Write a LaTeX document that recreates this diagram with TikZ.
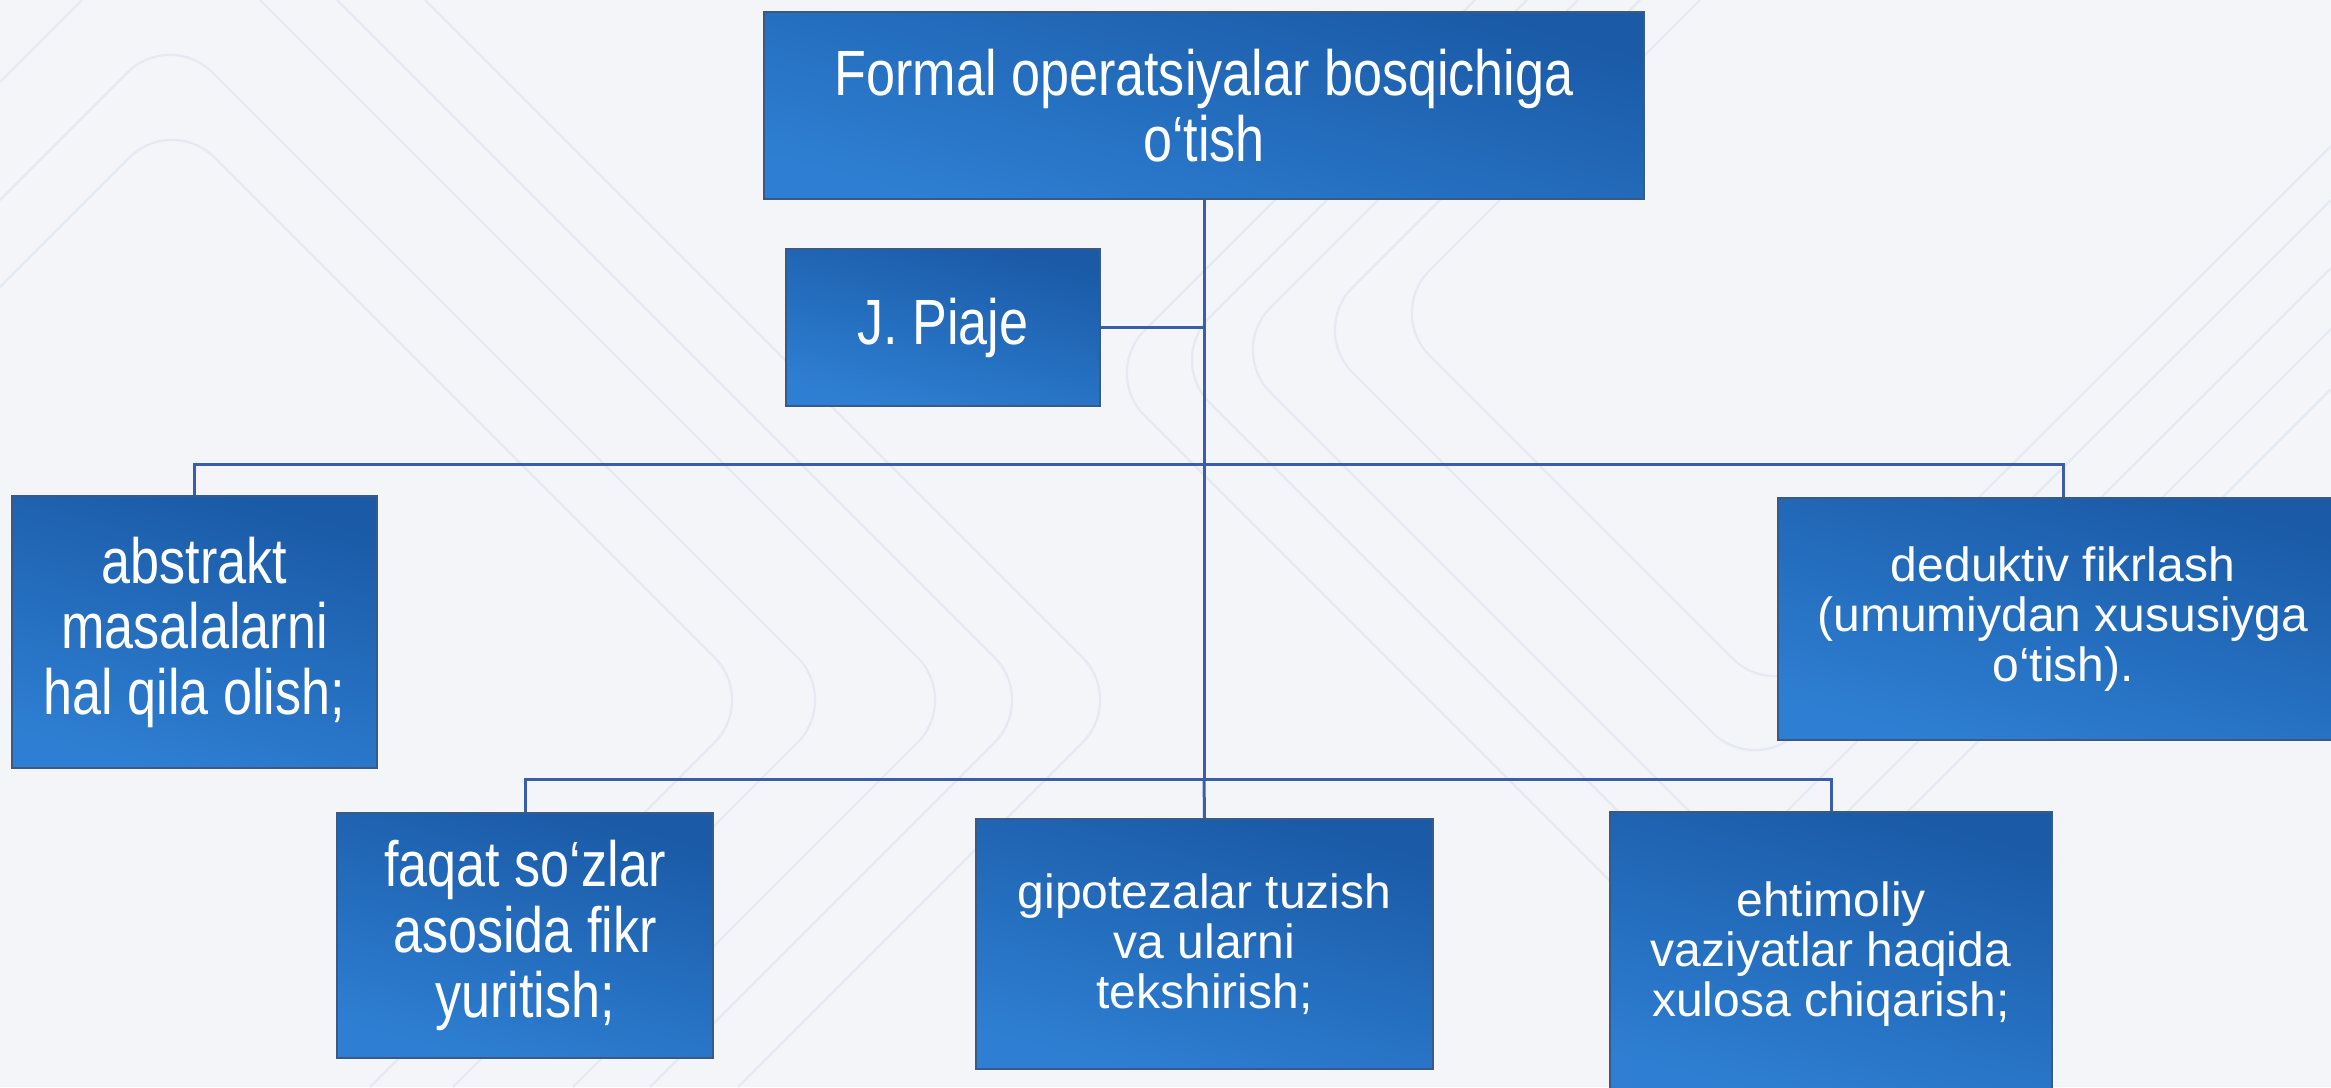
\documentclass[tikz,border=0pt]{standalone}
\usepackage{fontspec}
\setmainfont{Liberation Sans}
\newfontfamily\condfont[FakeStretch=0.815]{Liberation Sans}
\definecolor{bgcol}{HTML}{F3F5F9}
\definecolor{decor}{HTML}{E5E9F1}
\definecolor{boxdark}{HTML}{1A5AA6}
\definecolor{boxlight}{HTML}{2E7FD3}
\definecolor{boxborder}{HTML}{3A5A86}
\definecolor{connblue}{HTML}{3B5EAA}
\begin{document}
\begin{tikzpicture}[x=1pt,y=-1pt,
  boxbase/.style={draw=boxborder, line width=1.5pt, top color=boxdark, bottom color=boxlight, shading angle=-15, text=white, inner sep=0pt, align=center},
  bigbox/.style={boxbase, font=\condfont\fontsize{64}{65.5}\selectfont},
  smallbox/.style={boxbase, font=\fontsize{48}{50}\selectfont},
  conn/.style={draw=connblue, line width=3pt},
  deco/.style={draw=decor, line width=2.2pt, rounded corners=60pt}]
\useasboundingbox (0,0) rectangle (2331,1087);
\clip (0,0) rectangle (2331,1087);
\fill[bgcol] (0,0) rectangle (2331,1087);
% decorative background lines
\draw[deco] (0,200) -- (170,30) -- (840,700) -- (453,1087);
\draw[deco] (0,287) -- (172,115) -- (757,700) -- (370,1087);
\draw[deco] (260,0) -- (960,700) -- (573,1087);
\draw[deco] (337,0) -- (1037,700) -- (650,1087);
\draw[deco] (425,0) -- (1125,700) -- (738,1087);
\draw[deco] (0,82) -- (82,0);
\draw[deco] (1475,0) -- (1102,373) -- (1724,995) -- (2331,389);
\draw[deco] (1527,0) -- (1167,360) -- (1733,926) -- (2331,329);
\draw[deco] (1578,0) -- (1228,350) -- (1738,860) -- (2331,268);
\draw[deco] (1640,0) -- (1310,330) -- (1755,775) -- (2331,200);
\draw[deco] (1700,0) -- (1387,313) -- (1775,701) -- (2331,146);
% boxes
\node[bigbox, minimum width=880pt, minimum height=187pt] (top) at (1204,105.5) {Formal operatsiyalar bosqichiga\\o‘tish};
\node[bigbox, minimum width=314pt, minimum height=157pt] (piaje) at (943,327.5) {J. Piaje};
\node[bigbox, minimum width=365pt, minimum height=272pt] (abs) at (194.5,632) {abstrakt\\masalalarni\\hal qila olish;};
\node[smallbox, minimum width=570pt, minimum height=242pt] (ded) at (2063,619) {deduktiv fikrlash\\(umumiydan xususiyga\\o‘tish).};
\node[bigbox, minimum width=376pt, minimum height=245pt] (faq) at (525,935.5) {faqat so‘zlar\\asosida fikr\\yuritish;};
\node[smallbox, minimum width=457pt, minimum height=250pt] (gip) at (1204.5,944) {gipotezalar tuzish\\va ularni\\tekshirish;};
\node[smallbox, minimum width=442pt, minimum height=284pt] (eht) at (1831,954) {ehtimoliy\\vaziyatlar haqida\\xulosa chiqarish;};
% connectors
\coordinate (h1) at (1204,464);
\coordinate (h2) at (1204,779);
\draw[conn] (top.south) -- (h2);
\draw[conn] (piaje.east) -- (piaje.east -| h1);
\draw[conn] (abs.north) -- (abs.north |- h1) -- (ded.north |- h1) -- (ded.north);
\draw[conn] (faq.north) -- (faq.north |- h2) -- (eht.north |- h2) -- (eht.north);
\draw[conn] (h2) -- (gip.north);
\end{tikzpicture}
\end{document}
